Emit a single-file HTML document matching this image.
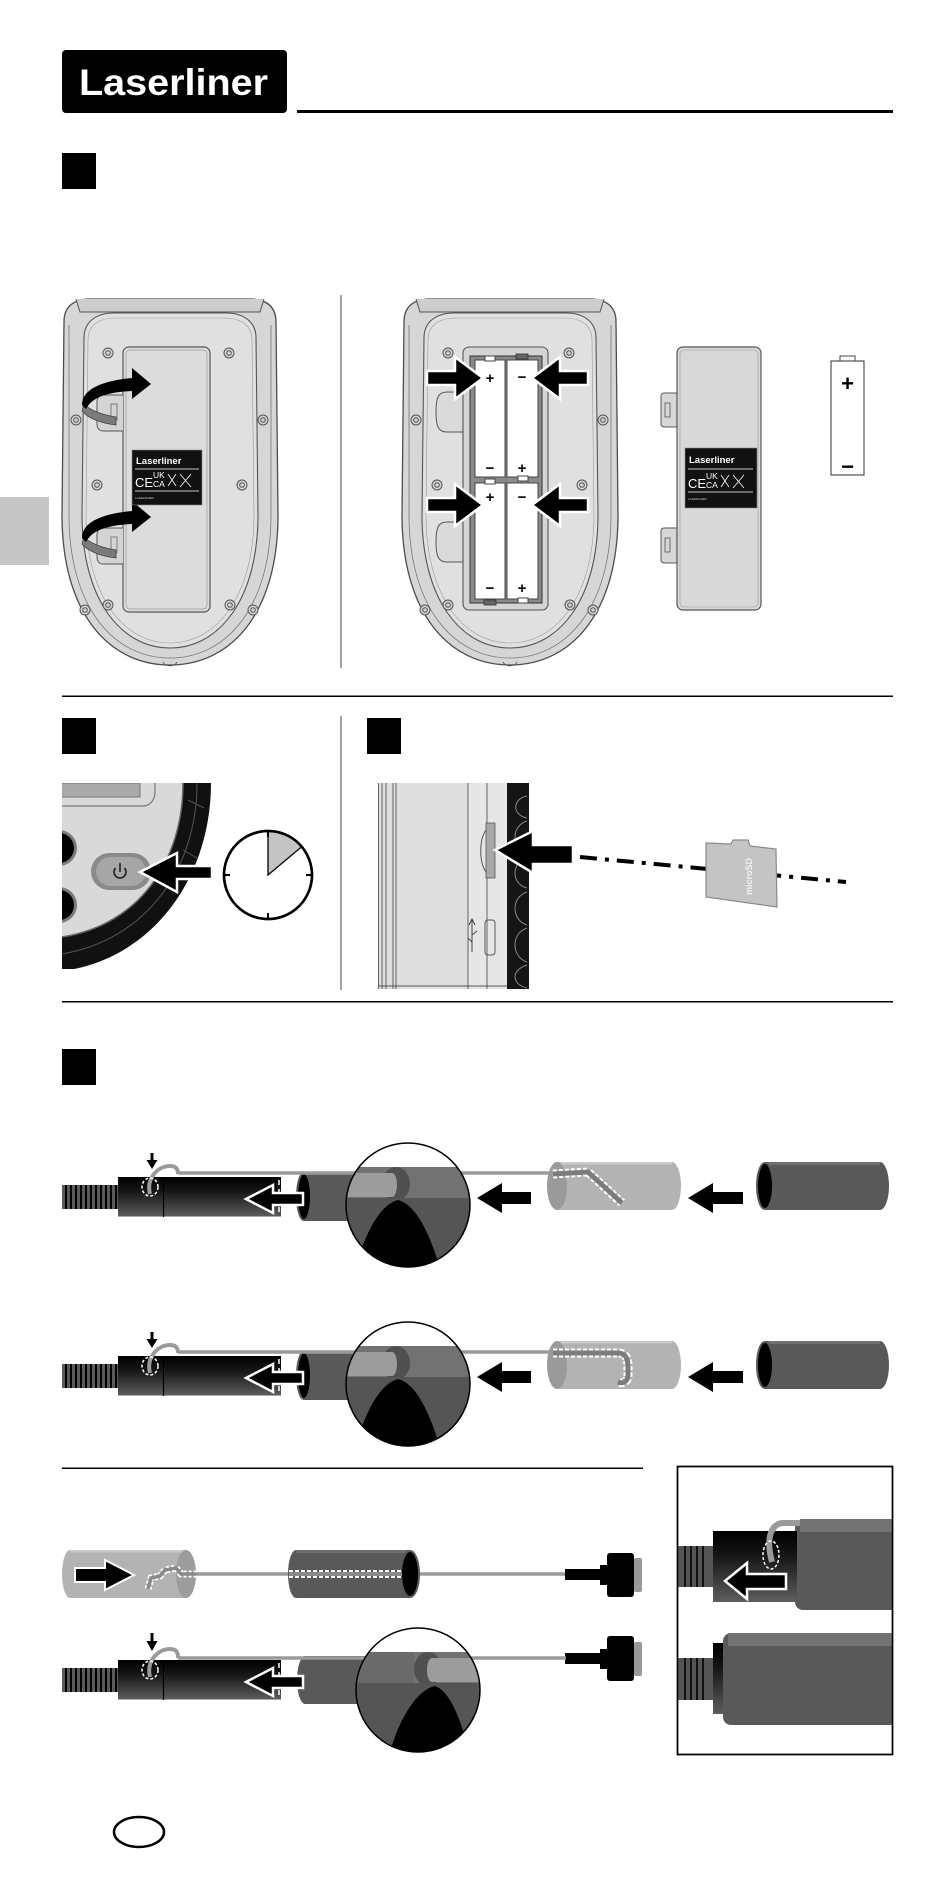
<!DOCTYPE html>
<html><head><meta charset="utf-8"><style>
html,body{margin:0;padding:0;background:#fff;}
svg{display:block;font-family:"Liberation Sans",sans-serif;}
</style></head><body>
<svg width="950" height="1881" viewBox="0 0 950 1881" xmlns="http://www.w3.org/2000/svg">
<defs>
<pattern id="hose" width="5" height="60" patternUnits="userSpaceOnUse"><rect width="5" height="60" fill="#5a5a5a"/><rect width="2" height="60" fill="#000"/></pattern>
<linearGradient id="hg" x1="0" y1="0" x2="0" y2="1"><stop offset="0" stop-color="#000"/><stop offset="0.35" stop-color="#151515"/><stop offset="1" stop-color="#5e5e5e"/></linearGradient>
<clipPath id="m1"><circle cx="408" cy="1205" r="62"/></clipPath>
<clipPath id="m2"><circle cx="408" cy="1384" r="62"/></clipPath>
<clipPath id="m3"><circle cx="418" cy="1690" r="62"/></clipPath>
<clipPath id="pw"><rect x="62" y="783" width="150" height="186"/></clipPath>
<clipPath id="sd"><rect x="378" y="783" width="152" height="206"/></clipPath>
<clipPath id="ins"><rect x="678" y="1467" width="214" height="287"/></clipPath>
</defs>
<rect width="950" height="1881" fill="#fff"/>

<!-- Header -->
<rect x="62" y="50" width="225" height="63" rx="4" fill="#000"/>
<text x="79" y="95" font-size="37" font-weight="bold" fill="#fff" textLength="189" lengthAdjust="spacingAndGlyphs">Laserliner</text>
<rect x="297" y="110" width="596" height="3" fill="#000"/>
<rect x="62" y="153" width="34" height="36" fill="#000"/>
<rect x="0" y="497" width="49" height="68" fill="#c6c6c6"/>

<!-- Section 1 separators -->
<rect x="340.5" y="295" width="1" height="373" fill="#444"/>
<rect x="62" y="695.5" width="831" height="1.5" fill="#000"/>

<!-- Device 1 -->
<g id="dev1">
<path d="M64,322 C64,308 72,300 88,299 L252,299 C268,300 276,308 276,322 L278,515 C278,612 232,665 170,665 C108,665 62,612 62,515 Z" fill="#d6d6d6" stroke="#4d4d4d" stroke-width="1.3"/>
<path d="M69,325 L69,515 C69,605 112,658 170,658 C228,658 271,605 271,515 L271,325" fill="none" stroke="#777" stroke-width="0.8"/>
<path d="M76,299 L80,312 L260,312 L264,299" fill="#cdcdcd" stroke="#555" stroke-width="1"/>
<path d="M84,338 C84,322 96,313 114,313 L226,313 C244,313 256,322 256,338 L258,515 C258,598 220,648 170,648 C120,648 82,598 82,515 Z" fill="#e0e0e0" stroke="#555" stroke-width="1.1"/>
<path d="M88,340 C88,326 98,318 116,318 L224,318 C242,318 252,326 252,340 L254,515 C254,594 218,643 170,643 C122,643 86,594 86,515 Z" fill="none" stroke="#999" stroke-width="0.6"/>
<g fill="#d2d2d2" stroke="#555" stroke-width="1">
<circle cx="108" cy="353" r="5"/><circle cx="108" cy="353" r="2.3"/>
<circle cx="229" cy="353" r="5"/><circle cx="229" cy="353" r="2.3"/>
<circle cx="76" cy="420" r="5"/><circle cx="76" cy="420" r="2.3"/>
<circle cx="263" cy="420" r="5"/><circle cx="263" cy="420" r="2.3"/>
<circle cx="97" cy="485" r="5"/><circle cx="97" cy="485" r="2.3"/>
<circle cx="242" cy="485" r="5"/><circle cx="242" cy="485" r="2.3"/>
<circle cx="108" cy="605" r="5"/><circle cx="108" cy="605" r="2.3"/>
<circle cx="230" cy="605" r="5"/><circle cx="230" cy="605" r="2.3"/>
<circle cx="85" cy="610" r="5"/><circle cx="85" cy="610" r="2.3"/>
<circle cx="253" cy="610" r="5"/><circle cx="253" cy="610" r="2.3"/>
</g>
<path d="M163,662 C165,667 175,667 177,662" fill="none" stroke="#555" stroke-width="1"/>
</g>
<!-- Device 1 cover -->
<rect x="123" y="347" width="87" height="265" rx="6" fill="#dcdcdc" stroke="#555" stroke-width="1.2"/>
<rect x="126" y="350" width="81" height="259" rx="4" fill="none" stroke="#999" stroke-width="0.7"/>
<g id="lat1">
<path d="M123,395 L103,395 C99,395 97,398 97,402 L97,424 C97,428 99,431 103,431 L123,431" fill="#d4d4d4" stroke="#555" stroke-width="1"/>
<rect x="111" y="404" width="6" height="16" fill="none" stroke="#666" stroke-width="0.8"/>
<path d="M84,404 C90,410 102,415 116,417 L116,425 C100,423 88,418 82,411 Z" fill="#7a7a7a" stroke="#444" stroke-width="0.8"/>
<path d="M82,405 C82,390 100,381 132,378 L132,368 L151,384 L132,399 L132,391 C108,392 92,397 86,409 Z" fill="#000"/>
</g>
<g transform="translate(0,133)">
<path d="M123,395 L103,395 C99,395 97,398 97,402 L97,424 C97,428 99,431 103,431 L123,431" fill="#d4d4d4" stroke="#555" stroke-width="1"/>
<rect x="111" y="404" width="6" height="16" fill="none" stroke="#666" stroke-width="0.8"/>
<path d="M84,404 C90,410 102,415 116,417 L116,425 C100,423 88,418 82,411 Z" fill="#7a7a7a" stroke="#444" stroke-width="0.8"/>
<path d="M82,405 C82,390 100,381 132,378 L132,368 L151,384 L132,399 L132,391 C108,392 92,397 86,409 Z" fill="#000"/>
</g>
<!-- label 1 -->
<g>
<rect x="132" y="450" width="70" height="55" fill="#111" stroke="#888" stroke-width="0.6"/>
<text x="136" y="464" font-size="9.5" font-weight="bold" fill="#fff">Laserliner</text>
<line x1="135" y1="469" x2="199" y2="469" stroke="#fff" stroke-width="0.7"/>
<text x="135" y="487" font-size="13" fill="#fff">CE</text>
<text x="153" y="478" font-size="8.5" fill="#fff">UK</text>
<text x="153" y="487" font-size="8.5" fill="#fff">CA</text>
<path d="M168,474 L176,486 M176,474 L168,486 M180,474 L191,487 M191,474 L180,487" stroke="#fff" stroke-width="0.8"/>
<line x1="135" y1="491" x2="199" y2="491" stroke="#fff" stroke-width="0.7"/>
<text x="135" y="499" font-size="3" fill="#ccc">LASERLINER</text>
</g>

<!-- Device 2 -->
<g transform="translate(340,0)">
<path d="M64,322 C64,308 72,300 88,299 L252,299 C268,300 276,308 276,322 L278,515 C278,612 232,665 170,665 C108,665 62,612 62,515 Z" fill="#d6d6d6" stroke="#4d4d4d" stroke-width="1.3"/>
<path d="M69,325 L69,515 C69,605 112,658 170,658 C228,658 271,605 271,515 L271,325" fill="none" stroke="#777" stroke-width="0.8"/>
<path d="M76,299 L80,312 L260,312 L264,299" fill="#cdcdcd" stroke="#555" stroke-width="1"/>
<path d="M84,338 C84,322 96,313 114,313 L226,313 C244,313 256,322 256,338 L258,515 C258,598 220,648 170,648 C120,648 82,598 82,515 Z" fill="#e0e0e0" stroke="#555" stroke-width="1.1"/>
<path d="M88,340 C88,326 98,318 116,318 L224,318 C242,318 252,326 252,340 L254,515 C254,594 218,643 170,643 C122,643 86,594 86,515 Z" fill="none" stroke="#999" stroke-width="0.6"/>
<g fill="#d2d2d2" stroke="#555" stroke-width="1">
<circle cx="108" cy="353" r="5"/><circle cx="108" cy="353" r="2.3"/>
<circle cx="229" cy="353" r="5"/><circle cx="229" cy="353" r="2.3"/>
<circle cx="76" cy="420" r="5"/><circle cx="76" cy="420" r="2.3"/>
<circle cx="263" cy="420" r="5"/><circle cx="263" cy="420" r="2.3"/>
<circle cx="97" cy="485" r="5"/><circle cx="97" cy="485" r="2.3"/>
<circle cx="242" cy="485" r="5"/><circle cx="242" cy="485" r="2.3"/>
<circle cx="108" cy="605" r="5"/><circle cx="108" cy="605" r="2.3"/>
<circle cx="230" cy="605" r="5"/><circle cx="230" cy="605" r="2.3"/>
<circle cx="85" cy="610" r="5"/><circle cx="85" cy="610" r="2.3"/>
<circle cx="253" cy="610" r="5"/><circle cx="253" cy="610" r="2.3"/>
</g>
<path d="M163,662 C165,667 175,667 177,662" fill="none" stroke="#555" stroke-width="1"/>
</g>
<!-- Device 2 compartment -->
<path d="M463,392 L447,392 C438,392 436,398 436,412 C436,426 438,432 447,432 L463,432" fill="#dadada" stroke="#555" stroke-width="1"/>
<path d="M463,522 L447,522 C438,522 436,528 436,542 C436,556 438,562 447,562 L463,562" fill="#dadada" stroke="#555" stroke-width="1"/>
<rect x="463" y="347" width="85" height="263" rx="6" fill="#d4d4d4" stroke="#555" stroke-width="1.1"/>
<rect x="470" y="356" width="72" height="247" fill="#8a8a8a" stroke="#333" stroke-width="1"/>
<g fill="#fff" stroke="#444" stroke-width="1">
<rect x="475" y="360" width="30" height="117"/>
<rect x="507" y="360" width="31" height="117"/>
<rect x="475" y="483" width="30" height="116"/>
<rect x="507" y="483" width="31" height="116"/>
<rect x="485" y="356" width="10" height="5"/>
<rect x="518" y="476" width="10" height="5"/>
<rect x="485" y="479" width="10" height="5"/>
<rect x="518" y="598" width="10" height="5"/>
</g>
<rect x="516" y="354" width="12" height="5" fill="#666" stroke="#333" stroke-width="0.8"/>
<rect x="484" y="600" width="12" height="5" fill="#666" stroke="#333" stroke-width="0.8"/>
<g font-size="15" font-weight="bold" fill="#000" text-anchor="middle">
<text x="490" y="383">+</text><text x="490" y="473">−</text>
<text x="522" y="382">−</text><text x="522" y="473">+</text>
<text x="490" y="502">+</text><text x="490" y="593">−</text>
<text x="522" y="502">−</text><text x="522" y="593">+</text>
</g>
<g fill="#000" stroke="#fff" stroke-width="2.5">
<polygon points="427,371 455,371 455,357 483,378 455,399 455,385 427,385"/>
<polygon points="588,371 560,371 560,357 532,378 560,399 560,385 588,385"/>
<polygon points="427,498 455,498 455,484 483,505 455,526 455,512 427,512"/>
<polygon points="588,498 560,498 560,484 532,505 560,526 560,512 588,512"/>
</g>

<!-- Separate cover -->
<g fill="#d6d6d6" stroke="#555" stroke-width="1">
<rect x="661" y="393" width="18" height="34" rx="3"/>
<rect x="661" y="528" width="18" height="35" rx="3"/>
</g>
<rect x="665" y="403" width="5" height="14" fill="none" stroke="#555" stroke-width="0.8"/>
<rect x="665" y="538" width="5" height="14" fill="none" stroke="#555" stroke-width="0.8"/>
<rect x="677" y="347" width="84" height="263" rx="6" fill="#d8d8d8" stroke="#555" stroke-width="1.2"/>
<rect x="680" y="350" width="78" height="257" rx="4" fill="none" stroke="#999" stroke-width="0.6"/>
<g transform="translate(553,-2)">
<rect x="132" y="450" width="72" height="60" fill="#111" stroke="#888" stroke-width="0.6"/>
<text x="136" y="465" font-size="9.5" font-weight="bold" fill="#fff">Laserliner</text>
<line x1="135" y1="471" x2="200" y2="471" stroke="#fff" stroke-width="0.7"/>
<text x="135" y="490" font-size="13" fill="#fff">CE</text>
<text x="153" y="481" font-size="8.5" fill="#fff">UK</text>
<text x="153" y="490" font-size="8.5" fill="#fff">CA</text>
<path d="M168,477 L176,489 M176,477 L168,489 M180,477 L191,490 M191,477 L180,490" stroke="#fff" stroke-width="0.8"/>
<line x1="135" y1="494" x2="200" y2="494" stroke="#fff" stroke-width="0.7"/>
<text x="135" y="502" font-size="3" fill="#ccc">LASERLINER</text>
</g>
<!-- Single battery -->
<rect x="840" y="356" width="15" height="6" fill="#fff" stroke="#444" stroke-width="1"/>
<rect x="831" y="361" width="33" height="114" fill="#fff" stroke="#444" stroke-width="1.1"/>
<text x="847.5" y="391" font-size="22" font-weight="bold" text-anchor="middle" fill="#000">+</text>
<text x="847.5" y="474" font-size="22" font-weight="bold" text-anchor="middle" fill="#000">−</text>

<!-- Section 2 / 3 -->
<rect x="62" y="718" width="34" height="36" fill="#000"/>
<rect x="367" y="718" width="34" height="36" fill="#000"/>
<rect x="340.5" y="716" width="1" height="274" fill="#444"/>
<rect x="62" y="1001" width="831" height="1.5" fill="#000"/>

<!-- Power image -->
<g clip-path="url(#pw)">
<path d="M40,783 L183,783 C183,860 140,925 62,937 L40,940 Z" fill="#d9d9d9"/>
<rect x="50" y="783" width="90" height="14" fill="#a9a9a9" stroke="#777" stroke-width="1"/>
<path d="M50,806 L143,806 C150,806 155,800 155,792 L155,780" fill="none" stroke="#777" stroke-width="1.2"/>
<circle cx="59" cy="848" r="18" fill="#7a7a7a"/><circle cx="59" cy="848" r="15" fill="#000"/>
<circle cx="59" cy="905" r="18" fill="#7a7a7a"/><circle cx="59" cy="905" r="15" fill="#000"/>
<path d="M183,783 L211,783 C211,880 150,960 62,971 L40,972 L40,938 L62,937 C140,925 183,860 183,783 Z" fill="#111"/>
<path d="M197,783 C197,870 145,940 62,954" fill="none" stroke="#555" stroke-width="1"/>
<path d="M183,783 C183,860 140,925 62,937" fill="none" stroke="#666" stroke-width="1.5"/>
<path d="M188,800 L204,808 M183,850 L197,858" stroke="#555" stroke-width="1"/>
<rect x="91" y="853" width="60" height="37" rx="18.5" fill="#8a8a8a"/>
<rect x="96" y="857" width="50" height="29" rx="14.5" fill="#a6a6a6"/>
<path d="M115.5,868 A6,6 0 1 0 124.5,868" fill="none" stroke="#222" stroke-width="1.6"/>
<line x1="120" y1="863" x2="120" y2="872" stroke="#222" stroke-width="1.6"/>
</g>
<polygon points="140,872 177,853 177,866 212,866 212,879 177,879 177,892" fill="#000" stroke="#fff" stroke-width="2.5"/>
<!-- Clock -->
<circle cx="268" cy="875" r="44" fill="#fff" stroke="#000" stroke-width="2.5"/>
<path d="M268,875 L268,831 A44,44 0 0 1 301.7,846.7 Z" fill="#c4c4c4" stroke="#000" stroke-width="1.3"/>
<g stroke="#000" stroke-width="2">
<line x1="268" y1="831" x2="268" y2="837"/><line x1="268" y1="913" x2="268" y2="919"/>
<line x1="224" y1="875" x2="230" y2="875"/><line x1="306" y1="875" x2="312" y2="875"/>
</g>
<circle cx="268" cy="875" r="44" fill="none" stroke="#000" stroke-width="2.5"/>

<!-- SD device -->
<g clip-path="url(#sd)">
<rect x="378" y="783" width="90" height="206" fill="#dedede"/>
<rect x="468" y="783" width="39" height="206" fill="#e6e6e6"/>
<g stroke="#555" stroke-width="0.9">
<line x1="378.5" y1="783" x2="378.5" y2="989"/><line x1="382" y1="783" x2="382" y2="989"/>
<line x1="386" y1="783" x2="386" y2="989"/><line x1="393" y1="783" x2="393" y2="989"/>
<line x1="396" y1="783" x2="396" y2="989"/>
<line x1="468" y1="783" x2="468" y2="989"/><line x1="487" y1="783" x2="487" y2="989"/>
<line x1="378" y1="986" x2="507" y2="986"/>
</g>
<rect x="507" y="783" width="22" height="206" fill="#151515"/>
<g fill="none" stroke="#888" stroke-width="1">
<path d="M527,796 C512,799 512,815 527,818"/>
<path d="M527,821 C511,826 511,848 527,853"/>
<path d="M527,858 C511,862 511,884 527,888"/>
<path d="M527,892 C511,897 511,920 527,925"/>
<path d="M527,928 C511,933 511,957 527,962"/>
<path d="M527,965 C511,970 511,984 527,988"/>
</g>
<rect x="486" y="823" width="9" height="55" fill="#a8a8a8" stroke="#555" stroke-width="0.8"/>
<path d="M486,830 C479,840 479,862 486,872" fill="none" stroke="#555" stroke-width="1"/>
<rect x="485" y="920" width="10" height="35" rx="3" fill="none" stroke="#555" stroke-width="1"/>
<path d="M472,920 L472,952 M469,925 L472,919 L475,925 M472,935 L477,931 M472,942 L468,938" fill="none" stroke="#444" stroke-width="1"/>
</g>
<polygon points="495,850 533,831 533,845 573,845 573,864 533,864 533,873" fill="#000" stroke="#fff" stroke-width="2.5"/>
<line x1="580" y1="857" x2="846" y2="882" stroke="#000" stroke-width="4" stroke-dasharray="17 8 4 8"/>
<polygon points="706,843 731,844 733,840 748,840 750,846 776,849 777,907 706,897" fill="#c4c4c4" stroke="#8a8a8a" stroke-width="1.2"/>
<text x="0" y="0" font-size="9" font-weight="bold" fill="#f2f2f2" transform="translate(752,895) rotate(-90)">microSD</text>

<!-- Section 4 -->
<rect x="62" y="1049" width="34" height="36" fill="#000"/>

<!-- Row 1 -->
<g id="row1">
<rect x="557" y="1162" width="115" height="48" fill="#b3b3b3"/>
<ellipse cx="672" cy="1186" rx="9" ry="24" fill="#b3b3b3"/>
<rect x="557" y="1162" width="115" height="2.5" fill="#c9c9c9"/>
<ellipse cx="557" cy="1186" rx="10" ry="24" fill="#9a9a9a"/>
<rect x="765" y="1162" width="115" height="48" fill="#595959"/>
<ellipse cx="880" cy="1186" rx="9" ry="24" fill="#595959"/>
<rect x="765" y="1162" width="115" height="3" fill="#707070"/>
<ellipse cx="765" cy="1186" rx="8" ry="23" fill="#000" stroke="#595959" stroke-width="2"/>
<polygon points="477,1198 502,1183 502,1192 531,1192 531,1204 502,1204 502,1213" fill="#000"/>
<polygon points="688,1198 713,1183 713,1192 743,1192 743,1204 713,1204 713,1213" fill="#000"/>
<rect x="304" y="1172" width="60" height="49" fill="#595959"/>
<ellipse cx="304" cy="1196.5" rx="7" ry="23.5" fill="#000" stroke="#595959" stroke-width="2"/>
<line x1="178" y1="1173" x2="552" y2="1173" stroke="#9a9a9a" stroke-width="3.5"/>
<path d="M553,1174 L588,1172 L622,1203" fill="none" stroke="#fff" stroke-width="9" stroke-dasharray="4 2"/>
<path d="M553,1174 L588,1172 L622,1203" fill="none" stroke="#7c7c7c" stroke-width="5"/>
<g clip-path="url(#m1)">
<rect x="340" y="1140" width="140" height="130" fill="#fff"/>
<rect x="340" y="1167" width="140" height="31" fill="#727272"/>
<ellipse cx="396" cy="1184" rx="14" ry="17" fill="#505050"/>
<rect x="340" y="1173" width="52" height="24" fill="#9c9c9c"/>
<ellipse cx="392" cy="1185" rx="5" ry="12" fill="#9c9c9c"/>
<rect x="340" y="1198" width="140" height="75" fill="#555"/>
<path d="M354,1275 C362,1240 378,1205 398,1200 C418,1205 432,1240 442,1275 Z" fill="#000"/>
</g>
<circle cx="408" cy="1205" r="62" fill="none" stroke="#000" stroke-width="1.5"/>
</g>
<g id="head1">
<rect x="62" y="1185" width="56" height="24" fill="url(#hose)"/>
<rect x="118" y="1177" width="163" height="40" fill="url(#hg)"/>
<line x1="118" y1="1216.5" x2="281" y2="1216.5" stroke="#aaa" stroke-width="1"/>
<line x1="163.5" y1="1177" x2="163.5" y2="1217" stroke="#000" stroke-width="1.2"/>
<line x1="279" y1="1180" x2="279" y2="1214" stroke="#fff" stroke-width="1.5" stroke-dasharray="5 4"/>
<path d="M150,1194 C146,1178 158,1166 170,1166 C177,1166 178,1170 178,1174" fill="none" stroke="#9a9a9a" stroke-width="4"/>
<ellipse cx="150" cy="1187" rx="8" ry="9" fill="none" stroke="#fff" stroke-width="1.5" stroke-dasharray="3 2"/>
<line x1="152" y1="1153" x2="152" y2="1162" stroke="#000" stroke-width="3"/>
<polygon points="146.5,1160 157.5,1160 152,1169" fill="#000"/>
<polygon points="246,1199 273,1185 273,1193 303,1193 303,1205 273,1205 273,1213" fill="#000" stroke="#fff" stroke-width="2.5"/>
</g>

<!-- Row 2 -->
<g transform="translate(0,179)">
<rect x="557" y="1162" width="115" height="48" fill="#b3b3b3"/>
<ellipse cx="672" cy="1186" rx="9" ry="24" fill="#b3b3b3"/>
<rect x="557" y="1162" width="115" height="2.5" fill="#c9c9c9"/>
<ellipse cx="557" cy="1186" rx="10" ry="24" fill="#9a9a9a"/>
<rect x="765" y="1162" width="115" height="48" fill="#595959"/>
<ellipse cx="880" cy="1186" rx="9" ry="24" fill="#595959"/>
<rect x="765" y="1162" width="115" height="3" fill="#707070"/>
<ellipse cx="765" cy="1186" rx="8" ry="23" fill="#000" stroke="#595959" stroke-width="2"/>
<polygon points="477,1198 502,1183 502,1192 531,1192 531,1204 502,1204 502,1213" fill="#000"/>
<polygon points="688,1198 713,1183 713,1192 743,1192 743,1204 713,1204 713,1213" fill="#000"/>
<rect x="304" y="1172" width="60" height="49" fill="#595959"/>
<ellipse cx="304" cy="1196.5" rx="7" ry="23.5" fill="#000" stroke="#595959" stroke-width="2"/>
<line x1="178" y1="1173" x2="552" y2="1173" stroke="#9a9a9a" stroke-width="3.5"/>
<path d="M553,1174 L618,1174 C626,1174 628,1180 628,1188 L628,1196 C628,1203 622,1205 618,1203" fill="none" stroke="#fff" stroke-width="9" stroke-dasharray="4 2"/>
<path d="M553,1174 L618,1174 C626,1174 628,1180 628,1188 L628,1196 C628,1203 622,1205 618,1203" fill="none" stroke="#7c7c7c" stroke-width="5"/>
<g clip-path="url(#m2)" transform="translate(0,-179)">
<g transform="translate(0,179)">
<rect x="340" y="1140" width="140" height="130" fill="#fff"/>
<rect x="340" y="1167" width="140" height="31" fill="#727272"/>
<ellipse cx="396" cy="1184" rx="14" ry="17" fill="#505050"/>
<rect x="340" y="1173" width="52" height="24" fill="#9c9c9c"/>
<ellipse cx="392" cy="1185" rx="5" ry="12" fill="#9c9c9c"/>
<rect x="340" y="1198" width="140" height="75" fill="#555"/>
<path d="M354,1275 C362,1240 378,1205 398,1200 C418,1205 432,1240 442,1275 Z" fill="#000"/>
</g>
</g>
<circle cx="408" cy="1205" r="62" fill="none" stroke="#000" stroke-width="1.5"/>
<rect x="62" y="1185" width="56" height="24" fill="url(#hose)"/>
<rect x="118" y="1177" width="163" height="40" fill="url(#hg)"/>
<line x1="118" y1="1216.5" x2="281" y2="1216.5" stroke="#aaa" stroke-width="1"/>
<line x1="163.5" y1="1177" x2="163.5" y2="1217" stroke="#000" stroke-width="1.2"/>
<line x1="279" y1="1180" x2="279" y2="1214" stroke="#fff" stroke-width="1.5" stroke-dasharray="5 4"/>
<path d="M150,1194 C146,1178 158,1166 170,1166 C177,1166 178,1170 178,1174" fill="none" stroke="#9a9a9a" stroke-width="4"/>
<ellipse cx="150" cy="1187" rx="8" ry="9" fill="none" stroke="#fff" stroke-width="1.5" stroke-dasharray="3 2"/>
<line x1="152" y1="1153" x2="152" y2="1162" stroke="#000" stroke-width="3"/>
<polygon points="146.5,1160 157.5,1160 152,1169" fill="#000"/>
<polygon points="246,1199 273,1185 273,1193 303,1193 303,1205 273,1205 273,1213" fill="#000" stroke="#fff" stroke-width="2.5"/>
</g>

<!-- Section 5 -->
<rect x="62" y="1467.5" width="581" height="1.5" fill="#000"/>
<!-- Row A -->
<rect x="70" y="1550" width="116" height="48" fill="#b3b3b3"/>
<ellipse cx="70" cy="1574" rx="8" ry="24" fill="#b3b3b3"/>
<rect x="70" y="1550" width="116" height="2.5" fill="#c9c9c9"/>
<ellipse cx="186" cy="1574" rx="10" ry="24" fill="#9c9c9c"/>
<polygon points="75,1568 105,1568 105,1560 134,1575 105,1590 105,1582 75,1582" fill="#000" stroke="#fff" stroke-width="2"/>
<line x1="195" y1="1574" x2="566" y2="1574" stroke="#9a9a9a" stroke-width="3.5"/>
<path d="M148,1589 L151,1578 L160,1576 L165,1570 L176,1568 L181,1574 L196,1574" fill="none" stroke="#fff" stroke-width="7" stroke-dasharray="3 2"/>
<path d="M148,1589 L151,1578 L160,1576 L165,1570 L176,1568 L181,1574 L196,1574" fill="none" stroke="#8a8a8a" stroke-width="3.5"/>
<rect x="296" y="1550" width="114" height="48" fill="#595959"/>
<ellipse cx="296" cy="1574" rx="8" ry="24" fill="#595959"/>
<rect x="296" y="1550" width="114" height="3" fill="#6e6e6e"/>
<ellipse cx="410" cy="1574" rx="9" ry="23" fill="#000" stroke="#595959" stroke-width="2"/>
<line x1="289" y1="1574" x2="402" y2="1574" stroke="#fff" stroke-width="8" stroke-dasharray="4 2"/>
<line x1="289" y1="1574" x2="402" y2="1574" stroke="#8a8a8a" stroke-width="4"/>
<rect x="565" y="1569" width="38" height="11" fill="#000"/>
<rect x="600" y="1565" width="8" height="20" fill="#000"/>
<rect x="634" y="1558" width="8" height="34" rx="2" fill="#999"/>
<rect x="607" y="1553" width="27" height="44" rx="3" fill="#000"/>

<!-- Row B -->
<rect x="305" y="1656" width="60" height="48" fill="#595959"/>
<ellipse cx="305" cy="1680" rx="8" ry="24" fill="#595959"/>
<rect x="565" y="1653" width="38" height="11" fill="#000"/>
<rect x="600" y="1649" width="8" height="20" fill="#000"/>
<rect x="634" y="1642" width="8" height="34" rx="2" fill="#999"/>
<rect x="607" y="1636" width="27" height="45" rx="3" fill="#000"/>
<line x1="178" y1="1658" x2="566" y2="1658" stroke="#9a9a9a" stroke-width="3.5"/>
<g clip-path="url(#m3)">
<rect x="350" y="1625" width="140" height="130" fill="#fff"/>
<rect x="350" y="1652" width="140" height="31" fill="#727272"/>
<rect x="350" y="1652" width="64" height="31" fill="#6a6a6a"/>
<ellipse cx="428" cy="1669" rx="14" ry="17" fill="#505050"/>
<rect x="432" y="1658" width="60" height="24" fill="#9c9c9c"/>
<ellipse cx="432" cy="1670" rx="5" ry="12" fill="#9c9c9c"/>
<rect x="350" y="1683" width="140" height="75" fill="#555"/>
<path d="M388,1760 C396,1725 415,1690 435,1686 C452,1692 462,1725 472,1760 Z" fill="#000"/>
</g>
<circle cx="418" cy="1690" r="62" fill="none" stroke="#000" stroke-width="1.5"/>
<g transform="translate(0,483)">
<rect x="62" y="1185" width="56" height="24" fill="url(#hose)"/>
<rect x="118" y="1177" width="163" height="40" fill="url(#hg)"/>
<line x1="118" y1="1216.5" x2="281" y2="1216.5" stroke="#aaa" stroke-width="1"/>
<line x1="163.5" y1="1177" x2="163.5" y2="1217" stroke="#000" stroke-width="1.2"/>
<line x1="279" y1="1180" x2="279" y2="1214" stroke="#fff" stroke-width="1.5" stroke-dasharray="5 4"/>
<path d="M150,1194 C146,1178 158,1166 170,1166 C177,1166 178,1170 178,1175" fill="none" stroke="#9a9a9a" stroke-width="4"/>
<ellipse cx="150" cy="1187" rx="8" ry="9" fill="none" stroke="#fff" stroke-width="1.5" stroke-dasharray="3 2"/>
<line x1="152" y1="1150" x2="152" y2="1160" stroke="#000" stroke-width="3"/>
<polygon points="146.5,1158 157.5,1158 152,1168" fill="#000"/>
<polygon points="246,1199 273,1185 273,1193 303,1193 303,1205 273,1205 273,1213" fill="#000" stroke="#fff" stroke-width="2.5"/>
</g>

<!-- Inset -->
<rect x="677.5" y="1466.5" width="215" height="288" fill="#fff" stroke="#000" stroke-width="1.5"/>
<g clip-path="url(#ins)">
<rect x="677" y="1546" width="36" height="41" fill="#555"/>
<g stroke="#000" stroke-width="1.6">
<line x1="685" y1="1546" x2="685" y2="1587"/><line x1="691" y1="1546" x2="691" y2="1587"/>
<line x1="697" y1="1546" x2="697" y2="1587"/><line x1="703" y1="1546" x2="703" y2="1587"/>
</g>
<rect x="795" y="1519" width="105" height="91" rx="8" fill="#595959"/>
<rect x="800" y="1519" width="100" height="13" fill="#737373"/>
<rect x="713" y="1531" width="84" height="71" fill="url(#hg)"/>
<path d="M772,1562 C766,1540 770,1525 782,1523 L800,1523" fill="none" stroke="#9a9a9a" stroke-width="6"/>
<ellipse cx="771" cy="1555" rx="8" ry="14" fill="none" stroke="#fff" stroke-width="1.5" stroke-dasharray="3 2"/>
<polygon points="725,1581 747,1563 747,1574 786,1574 786,1589 747,1589 747,1599" fill="#000" stroke="#fff" stroke-width="2.5"/>
<rect x="677" y="1658" width="36" height="42" fill="#555"/>
<g stroke="#000" stroke-width="1.6">
<line x1="685" y1="1658" x2="685" y2="1700"/><line x1="691" y1="1658" x2="691" y2="1700"/>
<line x1="697" y1="1658" x2="697" y2="1700"/><line x1="703" y1="1658" x2="703" y2="1700"/>
</g>
<rect x="713" y="1643" width="12" height="71" fill="url(#hg)"/>
<rect x="723" y="1633" width="177" height="92" rx="8" fill="#595959"/>
<rect x="728" y="1633" width="172" height="13" fill="#737373"/>
</g>
<rect x="677.5" y="1466.5" width="215" height="288" fill="none" stroke="#000" stroke-width="1.5"/>

<!-- Language oval -->
<ellipse cx="139" cy="1832" rx="25" ry="15" fill="none" stroke="#000" stroke-width="2.5"/>
</svg>
</body></html>
